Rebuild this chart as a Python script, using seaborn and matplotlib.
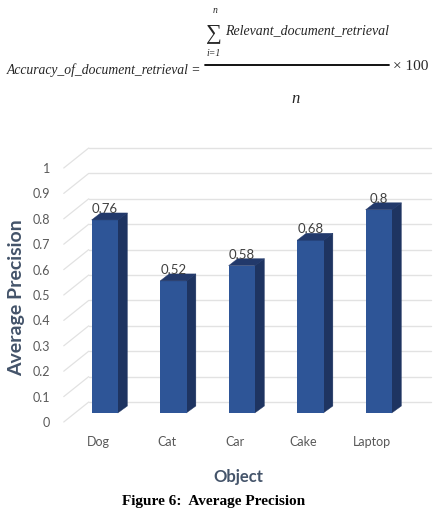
import numpy as np
import pandas as pd
import seaborn as sns
import matplotlib.pyplot as plt
from matplotlib.patches import Polygon
from matplotlib.transforms import ScaledTranslation

# data
objects = ['Dog', 'Cat', 'Car', 'Cake', 'Laptop']
precision = [0.76, 0.52, 0.58, 0.68, 0.8]
yticks = [0, 0.1, 0.2, 0.3, 0.4, 0.5, 0.6, 0.7, 0.8, 0.9, 1.0]
ytick_labels = ['0', '0.1', '0.2', '0.3', '0.4', '0.5', '0.6', '0.7', '0.8', '0.9', '1']

df = pd.DataFrame({'Object': objects, 'Average Precision': precision})

W, H, DPI = 433, 513, 100
sns.set_style('white')
plt.rcParams['font.family'] = ['Lato', 'DejaVu Sans']

fig = plt.figure(figsize=(W / DPI, H / DPI), dpi=DPI)

def fx(px):
    return px / W

def fy(py):
    return 1 - py / H

# front plane of the 3d chart
ax = fig.add_axes([fx(63.75), fy(422), 342.5 / W, 254 / H])

front_col = '#2E5597'
top_col = '#22396B'
side_col = '#1E3461'
grid_col = '#E2E2E2'
text_col = '#595959'
title_col = '#44546A'

sns.barplot(data=df, x='Object', y='Average Precision', color=front_col,
            width=0.39, saturation=1, linewidth=0, edgecolor=front_col, ax=ax, zorder=3)
ax.set_xlim(-0.5, 4.5)
ax.set_ylim(0, 1)

# pixels per data unit
sx = 342.5 / 5
sy = 254.0

# wall depth and bar depth offsets (pixels)
wall_dx, wall_dy = 25, 20
bar_dx, bar_dy = 7, 9
depth_dx, depth_dy = 9, 7

# back wall + side wall gridlines
for v in yticks:
    x0 = -0.5
    x1 = x0 + wall_dx / sx
    y1 = v + wall_dy / sy
    ax.plot([x0, x1], [v, y1], color=grid_col, lw=0.9, clip_on=False, zorder=1)
    ax.plot([x1, 4.5 + wall_dx / sx], [y1, y1], color=grid_col, lw=1.0,
            clip_on=False, zorder=1)

# shift bars to the middle of the depth and add the 3d faces
shift = ax.transData + ScaledTranslation(bar_dx / DPI, bar_dy / DPI, fig.dpi_scale_trans)
ddx = depth_dx / sx
ddy = depth_dy / sy
eps = 0.6 / sx  # small overlap so no seam shows between faces
for p in list(ax.patches):
    p.set_transform(shift)
    p.set_clip_on(False)
    p.set_linewidth(0)
    x = p.get_x()
    w = p.get_width()
    h = p.get_height()
    side = Polygon([(x + w - eps, 0), (x + w + ddx, ddy), (x + w + ddx, h + ddy), (x + w - eps, h)],
                   closed=True, facecolor=side_col, edgecolor=side_col, lw=0.3,
                   transform=shift, clip_on=False, zorder=2.9)
    top = Polygon([(x, h), (x + ddx, h + ddy), (x + w + ddx, h + ddy), (x + w, h)],
                  closed=True, facecolor=top_col, edgecolor=top_col, lw=0.3,
                  transform=shift, clip_on=False, zorder=3.1)
    ax.add_patch(side)
    ax.add_patch(top)

# value labels
lab_shift = ax.transData + ScaledTranslation(bar_dx / DPI, 14 / DPI, fig.dpi_scale_trans)
for i, v in enumerate(precision):
    ax.text(i, v, f'{v:g}', ha='center', va='bottom', fontsize=9.5,
            color='#404040', transform=lab_shift, zorder=4)

ax.set_yticks(yticks)
ax.set_yticklabels(ytick_labels)
ax.tick_params(axis='y', length=0, pad=10, labelsize=9, labelcolor=text_col)
ax.tick_params(axis='x', length=0, pad=10, labelsize=9, labelcolor=text_col)
ax.set_xlabel('')
ax.set_ylabel('')
for s in ax.spines.values():
    s.set_visible(False)
ax.patch.set_alpha(0)

fig.text(fx(17), fy(298), 'Average Precision', rotation=90, ha='center', va='center',
         fontsize=14, fontweight='bold', color=title_col)
fig.text(fx(238), fy(477), 'Object', ha='center', va='center',
         fontsize=12, fontweight='bold', color=title_col)
fig.text(fx(214), fy(502), 'Figure 6:  Average Precision', ha='center', va='center',
         fontsize=11, fontweight='bold', family='Liberation Serif', color='black')

# formula above the chart
ser = 'Liberation Serif'
fig.text(fx(201), fy(70), 'Accuracy_of_document_retrieval =', ha='right', va='center',
         fontsize=9.8, style='italic', family=ser)
fig.add_artist(plt.Line2D([fx(205), fx(389)], [fy(65), fy(65)], color='black', lw=1.3))
fig.text(fx(214), fy(34), '\u2211', ha='center', va='center', fontsize=16, family=ser)
fig.text(fx(215), fy(11), 'n', ha='center', va='center', fontsize=7, style='italic', family=ser)
fig.text(fx(214), fy(53), 'i=1', ha='center', va='center', fontsize=7, style='italic', family=ser)
fig.text(fx(225), fy(31), 'Relevant_document_retrieval', ha='left', va='center',
         fontsize=10, style='italic', family=ser)
fig.text(fx(296), fy(99), 'n', ha='center', va='center', fontsize=12, style='italic', family=ser)
fig.text(fx(393), fy(67), '\u00d7 100', ha='left', va='center', fontsize=11, family=ser)

fig.savefig('out.png', dpi=DPI)
